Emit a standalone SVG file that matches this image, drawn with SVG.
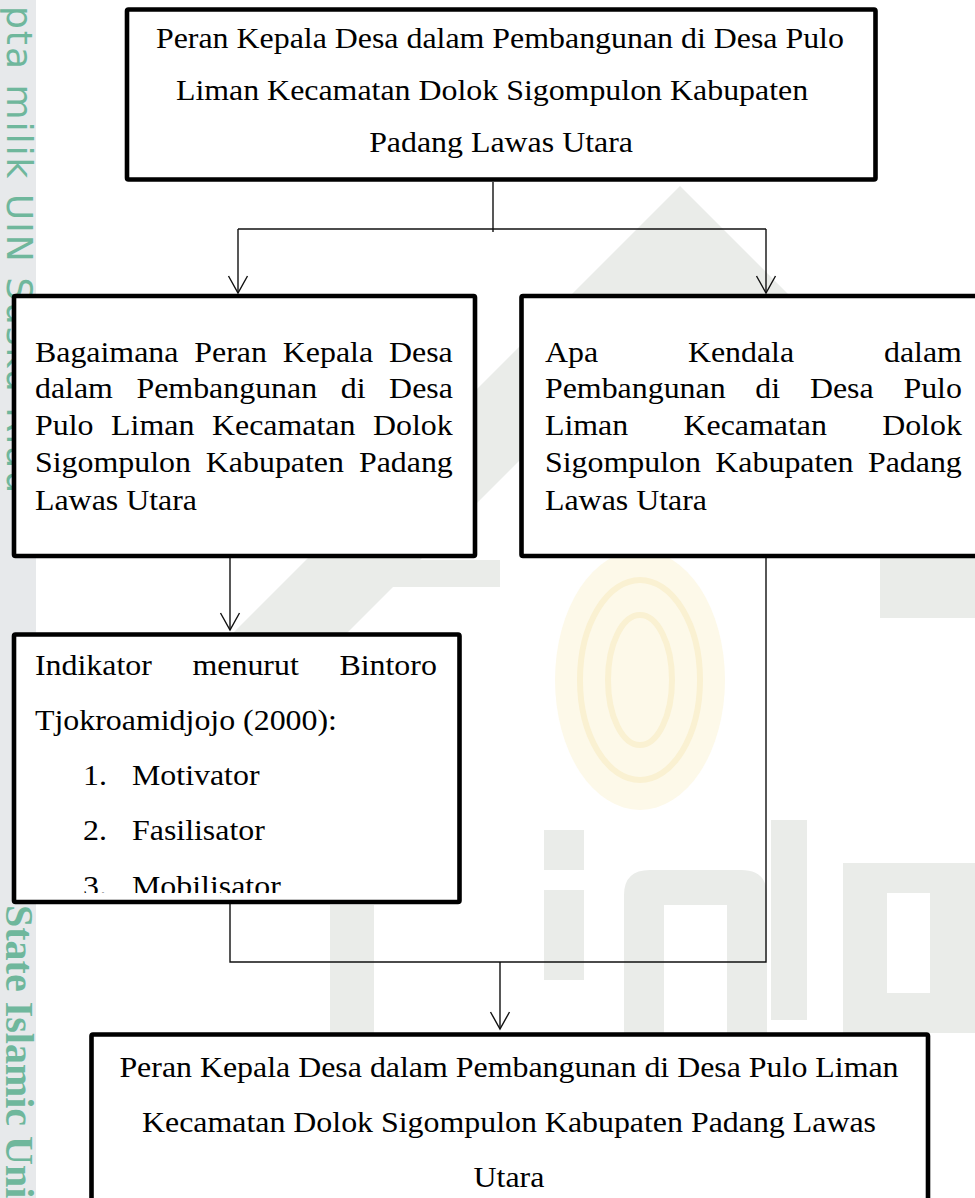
<svg xmlns="http://www.w3.org/2000/svg" width="975" height="1198" viewBox="0 0 975 1198">
<style>
.box{fill:#fff;stroke:#000;stroke-width:4.6}
.t{font-family:"Liberation Serif","Times New Roman",serif;font-size:29px;fill:#000}
.c{text-anchor:middle}
.wm{fill:#eaece9}
.wmt{fill:#6fb79c}
</style>
<defs>
<marker id="arr" viewBox="-19 -11 21 22" refX="0" refY="0" markerWidth="21" markerHeight="22" markerUnits="userSpaceOnUse" orient="auto">
<path d="M-17,-9.5 L0,0 L-17,9.5" fill="none" stroke="#111" stroke-width="1.4"/>
</marker>
<clipPath id="clipInd"><rect x="0" y="600" width="500" height="293"/></clipPath>
</defs>
<rect x="0" y="0" width="975" height="1198" fill="#fff"/>
<g id="watermark">
<rect x="0" y="0" width="36" height="1198" fill="#e7e9eb"/>
<polygon class="wm" points="680,186 975,481 975,595 680,300 257,723 200,666"/>
<ellipse cx="640" cy="680" rx="85" ry="130" fill="#fdf9e9"/>
<ellipse cx="640" cy="680" rx="60" ry="100" fill="none" stroke="#faf1d2" stroke-width="6"/>
<ellipse cx="640" cy="680" rx="32" ry="65" fill="none" stroke="#faf1d2" stroke-width="6"/>
<rect class="wm" x="330" y="905" width="44" height="128"/>
<path class="wm" d="M624,1033 V895 Q624,870 650,870 H741 Q767,870 767,895 V1033 H727 V905 H664 V1033 Z"/>
<rect class="wm" x="771" y="820" width="36" height="200"/>
<path class="wm" fill-rule="evenodd" d="M843,863 H975 V1033 H843 Z M887,893 V993 H930 V893 Z"/>
<rect class="wm" x="544" y="830" width="40" height="40"/>
<rect class="wm" x="544" y="890" width="40" height="90"/>
<rect class="wm" x="880" y="558" width="95" height="60"/>
<rect class="wm" x="390" y="560" width="110" height="27"/>
<text class="wmt" transform="translate(7,6) rotate(90)" style="font-family:'DejaVu Sans',sans-serif;font-size:36px;letter-spacing:2px">pta milik UIN Suska Riau</text>
<text class="wmt" transform="translate(6,905) rotate(90)" style="font-family:'Liberation Serif',serif;font-size:40px;font-weight:bold">State Islamic Uni</text>
</g>
<g id="connectors" fill="none" stroke="#111" stroke-width="1.4">
<path d="M493,182 V232"/>
<path d="M238,229 H766"/>
<path d="M238,229 V293" marker-end="url(#arr)"/>
<path d="M766,229 V293" marker-end="url(#arr)"/>
<path d="M230,558 V630" marker-end="url(#arr)"/>
<path d="M230,902 V962 H766 V558"/>
<path d="M500,962 V1029" marker-end="url(#arr)"/>
</g>
<g id="node-top">
<rect class="box" x="127" y="9.5" width="748.5" height="170" rx="1.5"/>
<g transform="scale(1.1,1)">
<text class="t c" x="454.5" y="48">Peran Kepala Desa dalam Pembangunan di Desa Pulo</text>
<text class="t c" x="447.3" y="100">Liman Kecamatan Dolok Sigompulon Kabupaten</text>
<text class="t c" x="455.5" y="152">Padang Lawas Utara</text>
</g>
</g>
<g id="node-bagaimana">
<rect class="box" x="14" y="296" width="461" height="260" rx="1.5"/>
<g transform="scale(1.1,1)">
<text class="t" x="31.82" y="362" style="word-spacing:7.2px">Bagaimana Peran Kepala Desa</text>
<text class="t" x="31.82" y="398.5" style="word-spacing:14.2px">dalam Pembangunan di Desa</text>
<text class="t" x="31.82" y="435" style="word-spacing:8.8px">Pulo Liman Kecamatan Dolok</text>
<text class="t" x="31.82" y="472" style="word-spacing:6.35px">Sigompulon Kabupaten Padang</text>
<text class="t" x="31.82" y="510">Lawas Utara</text>
</g>
</g>
<g id="node-kendala">
<rect class="box" x="521.5" y="296" width="480" height="260" rx="1.5"/>
<g transform="scale(1.1,1)">
<text class="t" x="495.45" y="362" style="word-spacing:74.4px">Apa Kendala dalam</text>
<text class="t" x="495.45" y="398.5" style="word-spacing:19.8px">Pembangunan di Desa Pulo</text>
<text class="t" x="495.45" y="435" style="word-spacing:43px">Liman Kecamatan Dolok</text>
<text class="t" x="495.45" y="472" style="word-spacing:5.9px">Sigompulon Kabupaten Padang</text>
<text class="t" x="495.45" y="510">Lawas Utara</text>
</g>
</g>
<g id="node-indikator">
<rect class="box" x="14" y="634.5" width="445.5" height="267.5" rx="1.5"/>
<g clip-path="url(#clipInd)">
<g transform="scale(1.1,1)">
<text class="t" x="31.82" y="675" style="word-spacing:29.7px">Indikator menurut Bintoro</text>
<text class="t" x="31.82" y="730">Tjokroamidjojo (2000):</text>
<text class="t" x="75.45" y="785">1.</text><text class="t" x="120" y="785">Motivator</text>
<text class="t" x="75.45" y="840">2.</text><text class="t" x="120" y="840">Fasilisator</text>
<text class="t" x="75.45" y="896">3.</text><text class="t" x="120" y="896">Mobilisator</text>
</g>
</g>
</g>
<g id="node-bottom">
<rect class="box" x="91.5" y="1034.5" width="836.5" height="200" rx="1.5"/>
<g transform="scale(1.1,1)">
<text class="t c" x="462.7" y="1077">Peran Kepala Desa dalam Pembangunan di Desa Pulo Liman</text>
<text class="t c" x="462.7" y="1132">Kecamatan Dolok Sigompulon Kabupaten Padang Lawas</text>
<text class="t c" x="462.7" y="1187">Utara</text>
</g>
</g>
</svg>
